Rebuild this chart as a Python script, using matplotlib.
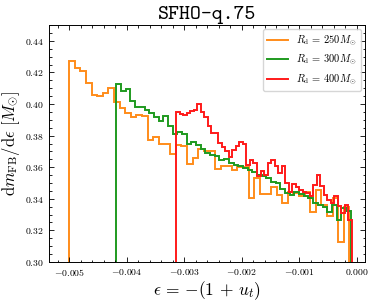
import matplotlib
matplotlib.use('Agg')
import matplotlib.pyplot as plt
import numpy as np
from matplotlib.ticker import MultipleLocator, FuncFormatter

plt.rcParams['mathtext.fontset'] = 'cm'
plt.rcParams['font.family'] = 'serif'
plt.rcParams['font.serif'] = ['cmr10', 'DejaVu Serif']
plt.rcParams['axes.formatter.use_mathtext'] = True

# bin ranges (epsilon) and histogram heights, 50 bins each
eps_250 = (-0.00500, -0.00013)
eps_300 = (-0.00418, -0.00011)
eps_400 = (-0.00314, -0.00009)

dm_250 = [0.4272, 0.4230, 0.4208, 0.4130, 0.4060, 0.4050, 0.4070, 0.4100, 0.4010, 0.3976,
          0.3944, 0.3916, 0.3933, 0.3923, 0.3775, 0.3790, 0.3747, 0.3747, 0.3684, 0.3738,
          0.3732, 0.3620, 0.3658, 0.3716, 0.3700, 0.3700, 0.3590, 0.3610, 0.3610, 0.3584,
          0.3599, 0.3599, 0.3404, 0.3531, 0.3432, 0.3432, 0.3472, 0.3425, 0.3372, 0.3446,
          0.3436, 0.3415, 0.3446, 0.3315, 0.3457, 0.3362, 0.3294, 0.3404, 0.3129, 0.3345]

dm_300 = [0.4128, 0.4081, 0.4098, 0.4022, 0.3982, 0.3982, 0.3965, 0.3944, 0.3919, 0.3891,
          0.3923, 0.3859, 0.3813, 0.3824, 0.3813, 0.3749, 0.3760, 0.3743, 0.3716, 0.3690,
          0.3675, 0.3669, 0.3648, 0.3654, 0.3626, 0.3612, 0.3605, 0.3595, 0.3584, 0.3569,
          0.3552, 0.3542, 0.3531, 0.3506, 0.3500, 0.3463, 0.3436, 0.3425, 0.3446, 0.3430,
          0.3415, 0.3404, 0.3372, 0.3362, 0.3351, 0.3315, 0.3362, 0.3267, 0.3340, 0.3324]

dm_400 = [0.3950, 0.3935, 0.3929, 0.3944, 0.3954, 0.3960, 0.3997, 0.3950, 0.3920, 0.3860,
          0.3817, 0.3817, 0.3753, 0.3726, 0.3700, 0.3662, 0.3711, 0.3732, 0.3757, 0.3747,
          0.3616, 0.3648, 0.3627, 0.3542, 0.3573, 0.3552, 0.3627, 0.3648, 0.3605, 0.3563,
          0.3605, 0.3500, 0.3446, 0.3493, 0.3472, 0.3457, 0.3446, 0.3436, 0.3415, 0.3489,
          0.3552, 0.3478, 0.3425, 0.3394, 0.3372, 0.3415, 0.3356, 0.3309, 0.3362, 0.3265]

labels = [r'$R_{\rm d} \,=\, 250 M_{\odot}$', r'$R_{\rm d} \,=\, 300 M_{\odot}$',
          r'$R_{\rm d} \,=\, 400 M_{\odot}$']
colors = ['#ff8c1a', '#1f9a1f', '#ff1a1a']

fig = plt.figure(figsize=(3.74, 3.05), dpi=100)
ax = fig.add_axes([0.1297, 0.141, 0.8463, 0.777])

for rng, dm, lab, c in zip([eps_250, eps_300, eps_400], [dm_250, dm_300, dm_400], labels, colors):
    edges = np.linspace(rng[0], rng[1], len(dm) + 1)
    ax.stairs(dm, edges, baseline=0, color=c, lw=1.4, label=lab)

ax.set_xlim(-0.00536, 0.00014)
ax.set_ylim(0.30, 0.45)

ax.xaxis.set_major_locator(MultipleLocator(0.001))
ax.xaxis.set_minor_locator(MultipleLocator(0.0002))
ax.yaxis.set_major_locator(MultipleLocator(0.02))
ax.yaxis.set_minor_locator(MultipleLocator(0.005))
ax.xaxis.set_major_formatter(FuncFormatter(lambda v, p: '$%.3f$' % (0 if abs(v) < 1e-9 else v)))
ax.yaxis.set_major_formatter(FuncFormatter(lambda v, p: '$%.2f$' % v))
ax.tick_params(which='both', direction='in', top=True, right=True, labelsize=7, width=0.6)
ax.tick_params(which='major', length=3.5)
ax.tick_params(which='minor', length=1.8)
for s in ax.spines.values():
    s.set_linewidth(0.7)

ax.set_xlabel(r'$\epsilon \,=\, {-}(1 \,+\, u_t)$', fontsize=12.5, labelpad=1)
ax.set_ylabel(r'$\mathrm{d}m_{\rm FB}/\mathrm{d}\epsilon\ [M_{\odot}]$', fontsize=12, labelpad=2)
ax.set_title('SFHO-q.75', fontsize=15, family='cmtt10', pad=4)
ax.legend(loc='upper right', fontsize=7.5, handlelength=2.0, borderaxespad=0.4)

fig.savefig('out.png', dpi=100)
